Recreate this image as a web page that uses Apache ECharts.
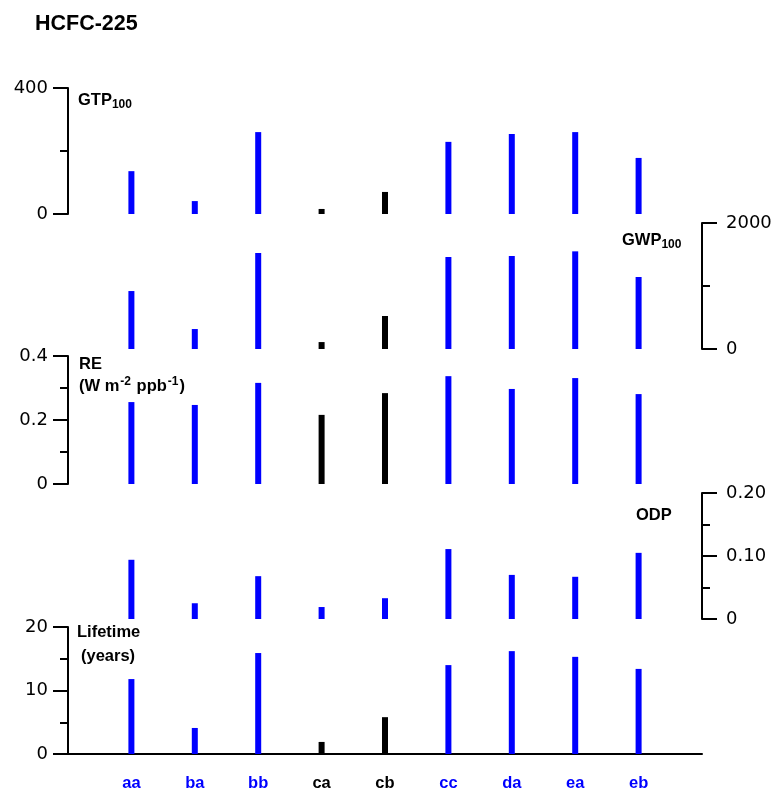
<!DOCTYPE html>
<html>
<head>
<meta charset="utf-8">
<script src="https://cdn.jsdelivr.net/npm/echarts@6/dist/echarts.min.js"></script>
<style>
  html, body { margin: 0; padding: 0; background: #fff; }
  #chart { width: 774px; height: 790px; }
</style>
</head>
<body>
<div id="chart"></div>
<script>
// compounds (the two "c" isomers are drawn in black, except in the ODP panel)
var categories = ["aa", "ba", "bb", "ca", "cb", "cc", "da", "ea", "eb"];
var blackCats = ["ca", "cb"];

var gtp100 = [136, 41, 260, 16, 70, 229, 254, 260, 178];
var gwp100 = [920, 317, 1524, 110, 524, 1460, 1476, 1550, 1143];
var re = [0.256, 0.247, 0.316, 0.216, 0.284, 0.337, 0.297, 0.331, 0.281];
var odp = [0.094, 0.025, 0.068, 0.019, 0.033, 0.111, 0.070, 0.067, 0.105];
var lifetime = [11.8, 4.1, 15.9, 1.9, 5.8, 14.0, 16.2, 15.3, 13.4];

var axisCats = [""].concat(categories, [""]);

var chartDom = document.getElementById("chart");
var myChart = echarts.init(chartDom);

function colorOf(c) {
  return blackCats.indexOf(c) >= 0 ? "#000000" : "#0000ff";
}

function barData(vals, mixed) {
  return categories.map(function (c, i) {
    return { value: [c, vals[i]], itemStyle: { color: mixed ? colorOf(c) : "#0000ff" } };
  });
}

var panels = [
  { top: 88, height: 126, max: 400, interval: 400, pos: "left", vals: gtp100, mixed: true,
    fmt: function (v) { return String(v); } },
  { top: 223, height: 126, max: 2000, interval: 2000, pos: "right", vals: gwp100, mixed: true,
    fmt: function (v) { return String(v); } },
  { top: 356, height: 128, max: 0.4, interval: 0.2, pos: "left", vals: re, mixed: true,
    fmt: function (v) { return v === 0 ? "0" : v.toFixed(1); } },
  { top: 493, height: 126, max: 0.2, interval: 0.1, pos: "right", vals: odp, mixed: false,
    fmt: function (v) { return v === 0 ? "0" : v.toFixed(2); } },
  { top: 627, height: 127, max: 20, interval: 10, pos: "left", vals: lifetime, mixed: true,
    fmt: function (v) { return String(v); } },
];

var grids = [], xAxes = [], yAxes = [], series = [];
panels.forEach(function (p, k) {
  var last = k === panels.length - 1;
  grids.push({ left: 68, right: 72, top: p.top, height: p.height, outerBoundsMode: "none" });
  xAxes.push({
    gridIndex: k,
    type: "category",
    data: axisCats,
    boundaryGap: false,
    show: last,
    axisLine: { show: true, lineStyle: { color: "#000", width: 2 } },
    axisTick: { show: false },
    axisLabel: {
      interval: 0,
      margin: 21,
      fontFamily: "Liberation Sans, Arial, sans-serif",
      fontWeight: "bold",
      fontSize: 16.5,
      color: function (v) { return colorOf(v); },
    },
  });
  yAxes.push({
    gridIndex: k,
    type: "value",
    position: p.pos,
    min: 0,
    max: p.max,
    interval: p.interval,
    axisLine: { show: true, lineStyle: { color: "#000", width: 2 } },
    axisTick: { show: true, length: 15, lineStyle: { color: "#000", width: 2 } },
    minorTick: { show: true, splitNumber: 2, length: 8, lineStyle: { color: "#000", width: 2 } },
    splitLine: { show: false },
    minorSplitLine: { show: false },
    axisLabel: {
      margin: p.pos === "left" ? 20 : 24,
      fontFamily: "DejaVu Sans, Verdana, sans-serif",
      fontSize: 18,
      color: "#000",
      formatter: p.fmt,
    },
  });
  series.push({
    type: "bar",
    xAxisIndex: k,
    yAxisIndex: k,
    barWidth: 6,
    data: barData(p.vals, p.mixed),
  });
});

var labelFont = "Liberation Sans, Arial, sans-serif";
function panelLabel(left, top, text, rich) {
  return {
    type: "text",
    left: left,
    top: top,
    style: {
      text: text,
      fontFamily: labelFont,
      fontWeight: "bold",
      fontSize: 16.5,
      fill: "#000",
      rich: rich || {},
    },
  };
}
var subRich = {
  b: { fontFamily: labelFont, fontWeight: "bold", fontSize: 16.5, fill: "#000" },
  s: { fontFamily: labelFont, fontWeight: "bold", fontSize: 12, fill: "#000", verticalAlign: "bottom", padding: [9, 0, 0, 0] },
  p: { fontFamily: labelFont, fontWeight: "bold", fontSize: 12, fill: "#000", verticalAlign: "top", padding: [0, 1, 9, 1] },
};

var option = {
  animation: false,
  title: {
    text: "HCFC-225",
    left: 30,
    top: 8,
    textStyle: { fontFamily: labelFont, fontWeight: "bold", fontSize: 21.5, color: "#000" },
  },
  grid: grids,
  xAxis: xAxes,
  yAxis: yAxes,
  series: series,
  graphic: [
    panelLabel(78, 92, "{b|GTP}{s|100}", subRich),
    panelLabel(622, 232, "{b|GWP}{s|100}", subRich),
    panelLabel(79, 356, "RE"),
    panelLabel(79, 376, "{b|(W m}{p|-2}{b| ppb}{p|-1}{b|)}", subRich),
    panelLabel(636, 507, "ODP"),
    panelLabel(77, 624, "Lifetime"),
    panelLabel(81, 648, "(years)"),
  ],
};

myChart.setOption(option);
</script>
</body>
</html>
